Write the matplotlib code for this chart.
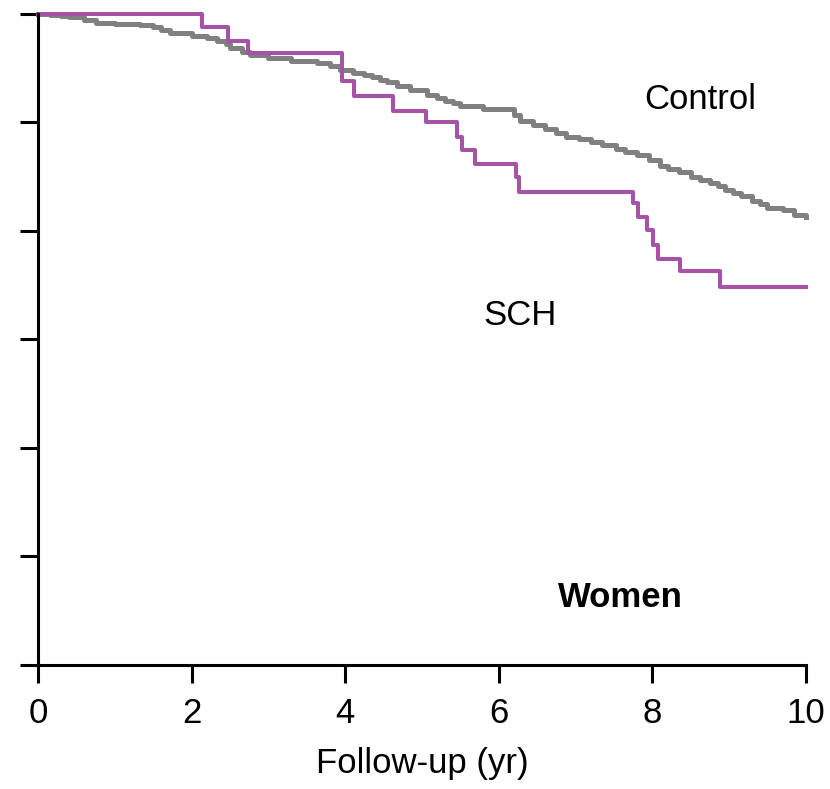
import matplotlib
matplotlib.use("Agg")
import matplotlib.pyplot as plt

plt.rcParams['font.family'] = ['Liberation Sans', 'DejaVu Sans']

# Control group (gray), event-free fraction over follow-up
control_t = [0, 0.15, 0.3, 0.4, 0.6, 0.76, 1.0, 1.33, 1.5, 1.6, 1.72, 2.0, 2.2, 2.33,
             2.45, 2.5, 2.65, 2.76, 3.0, 3.3, 3.63, 3.8, 3.93, 4.1, 4.24, 4.35, 4.45,
             4.55, 4.67, 4.85, 5.06, 5.2, 5.3, 5.4, 5.49, 5.8, 6.1, 6.2, 6.28, 6.45,
             6.6, 6.75, 6.88, 7.05, 7.2, 7.35, 7.53, 7.65, 7.8, 7.95, 8.1, 8.2, 8.35,
             8.5, 8.62, 8.75, 8.85, 8.95, 9.05, 9.15, 9.3, 9.4, 9.49, 9.7, 9.85, 10.0]
control_s = [1.000, 0.999, 0.998, 0.997, 0.994, 0.992, 0.991, 0.990, 0.988, 0.985,
             0.982, 0.980, 0.978, 0.975, 0.972, 0.969, 0.965, 0.962, 0.959, 0.957,
             0.955, 0.952, 0.948, 0.946, 0.944, 0.942, 0.939, 0.937, 0.934, 0.930,
             0.925, 0.923, 0.920, 0.918, 0.915, 0.912, 0.912, 0.907, 0.901, 0.898,
             0.894, 0.890, 0.887, 0.885, 0.882, 0.879, 0.876, 0.873, 0.870, 0.865,
             0.860, 0.857, 0.854, 0.850, 0.847, 0.844, 0.841, 0.838, 0.835, 0.832,
             0.828, 0.825, 0.821, 0.819, 0.815, 0.813]

# SCH group (purple)
sch_t = [0, 2.13, 2.47, 2.73, 3.96, 4.11, 4.62, 5.05, 5.45, 5.52, 5.69, 6.23, 6.27,
         7.75, 7.81, 7.93, 8.01, 8.08, 8.36, 8.88, 10.0]
sch_s = [1.000, 0.988, 0.975, 0.964, 0.938, 0.924, 0.911, 0.900, 0.887, 0.875, 0.862,
         0.850, 0.836, 0.826, 0.813, 0.801, 0.787, 0.774, 0.763, 0.748, 0.748]

fig = plt.figure(figsize=(8.3, 7.89), dpi=100)
ax = fig.add_axes([0.0458, 0.1572, 0.9252, 0.8251])

ax.plot(control_t, control_s, drawstyle='steps-post', color='#808080', lw=3.6, clip_on=False)
ax.plot(sch_t, sch_s, drawstyle='steps-post', color='#A652A6', lw=2.9, clip_on=False)

ax.set_xlim(0, 10)
ax.set_ylim(0.4, 1.0)
ax.set_xticks([0, 2, 4, 6, 8, 10])
ax.set_yticks([0.4, 0.5, 0.6, 0.7, 0.8, 0.9, 1.0])
ax.set_yticklabels([])
ax.tick_params(axis='both', direction='out', length=13, width=2.2, labelsize=25, pad=10)

for s in ['top', 'right']:
    ax.spines[s].set_visible(False)
for s in ['left', 'bottom']:
    ax.spines[s].set_linewidth(2.2)

ax.set_xlabel('Follow-up (yr)', fontsize=25, labelpad=12)

ax.text(8.62, 0.921, 'Control', fontsize=25, ha='center', va='center')
ax.text(6.28, 0.722, 'SCH', fontsize=25, ha='center', va='center')
ax.text(7.58, 0.462, 'Women', fontsize=25, fontweight='bold', ha='center', va='center')

fig.savefig('out.png', dpi=100)
